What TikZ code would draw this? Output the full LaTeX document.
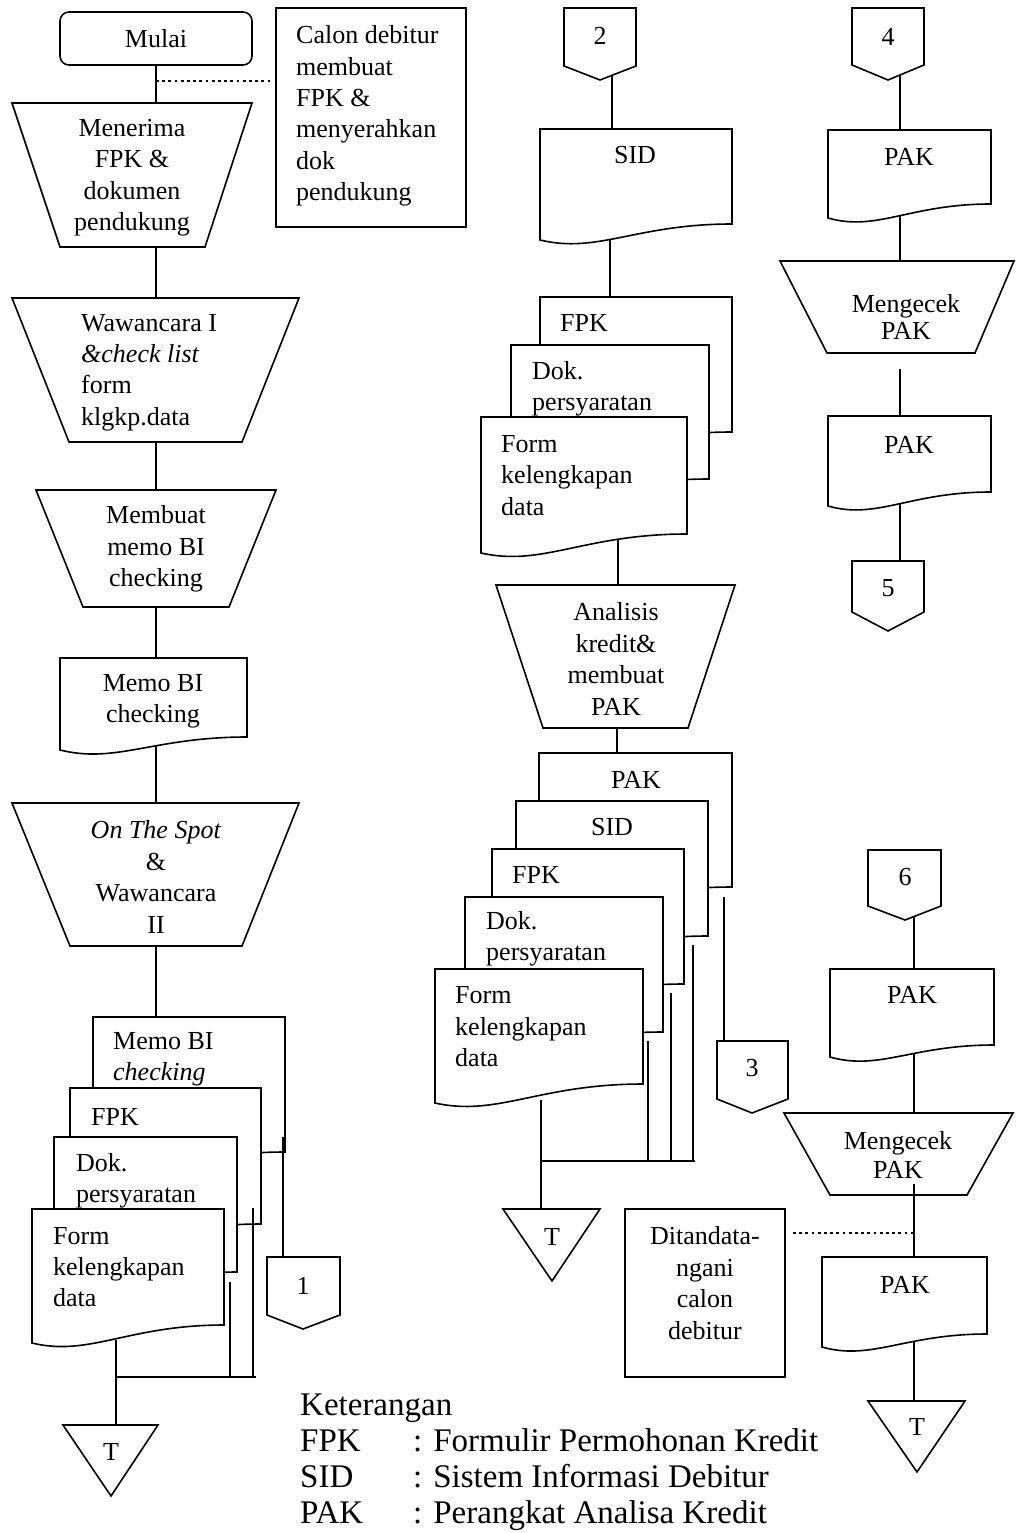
\documentclass[tikz,border=0pt]{standalone}
\usepackage{fontspec}
\setmainfont{Liberation Serif}
% flowchart helpers (coordinates in px, y grows downward)
\newcommand\flowdoc[5]{% x0, top, x1, right bottom, left bottom
  \draw[shp] (#1,#5) -- (#1,#2) -- (#3,#2) -- (#3,#4)
    .. controls ({#1+0.5*(#3-#1)},#4) and ({#1+0.3*(#3-#1)},{#5+14}) .. (#1,#5) -- cycle;}
\newcommand\flowtrap[6]{% top y, top x0, top x1, bottom y, bottom x0, bottom x1
  \draw[shp] (#2,#1) -- (#3,#1) -- (#6,#4) -- (#5,#4) -- cycle;}
\newcommand\flowconn[6]{% x0, x1, top, side bottom, tip x, tip y
  \draw[shp] (#1,#3) -- (#2,#3) -- (#2,#4) -- (#5,#6) -- (#1,#4) -- cycle;}
\newcommand\flowmerge[5]{% x0, x1, top, tip x, tip y
  \draw[shp] (#1,#3) -- (#2,#3) -- (#4,#5) -- cycle;}
\newcommand\abbrcol[1]{\makebox[113pt][l]{#1}}
\begin{document}
\begin{tikzpicture}[x=1pt,y=-1pt,
  shp/.style={draw=black, line width=1.6pt, fill=white, line join=miter},
  lnk/.style={draw=black, line width=1.6pt},
  dots/.style={draw=black, line width=2.8pt, dash pattern=on 2.8pt off 3.4pt},
  txt/.style={font=\fontsize{26}{31.4}\selectfont, inner sep=0pt},
  lgd/.style={font=\fontsize{33}{36}\selectfont, inner sep=0pt, align=left}]
\useasboundingbox[fill=white] (0,0) rectangle (1016,1533);

% ---------- connector end points ----------
\coordinate (l1) at (156,103);
\coordinate (l2a) at (156,247);  \coordinate (l2b) at (156,298);
\coordinate (l3a) at (156,442);  \coordinate (l3b) at (156,490);
\coordinate (l4a) at (156,607);  \coordinate (l4b) at (156,658);
\coordinate (l5a) at (156,745);  \coordinate (l5b) at (156,803);
\coordinate (l6a) at (156,946);  \coordinate (l6b) at (156,1017);
\coordinate (dotA) at (156,81);  \coordinate (dotB) at (270,81);
\coordinate (s1a) at (283,1137); \coordinate (s1b) at (283,1257);
\coordinate (s2a) at (253,1208); \coordinate (s2b) at (253,1377);
\coordinate (s3a) at (230,1282); \coordinate (s3b) at (230,1377);
\coordinate (s4a) at (116,1340); \coordinate (s4b) at (116,1425);
\coordinate (s4m) at (116,1377); \coordinate (s5) at (256,1377);

\coordinate (m1a) at (612,72);   \coordinate (m1b) at (612,129);
\coordinate (m2a) at (610,240);  \coordinate (m2b) at (610,297);
\coordinate (m3a) at (618,530);  \coordinate (m3b) at (618,585);
\coordinate (m4a) at (617,728);  \coordinate (m4b) at (617,753);
\coordinate (n1a) at (724,897);  \coordinate (n1b) at (724,1041);
\coordinate (n2a) at (693,945);  \coordinate (n2b) at (693,1161);
\coordinate (n3a) at (671,993);  \coordinate (n3b) at (671,1161);
\coordinate (n4a) at (648,1041); \coordinate (n4b) at (648,1161);
\coordinate (n5a) at (541,1100); \coordinate (n5b) at (541,1209);
\coordinate (n5m) at (541,1161); \coordinate (n6) at (695,1161);
\coordinate (dotC) at (793,1233); \coordinate (dotD) at (913,1233);

\coordinate (r1a) at (900,72);   \coordinate (r1b) at (900,130);
\coordinate (r2a) at (900,210);  \coordinate (r2b) at (900,261);
\coordinate (r3a) at (900,369);  \coordinate (r3b) at (900,416);
\coordinate (r4a) at (900,500);  \coordinate (r4b) at (900,561);
\coordinate (q1a) at (914,912);  \coordinate (q1b) at (914,969);
\coordinate (q2a) at (914,1050); \coordinate (q2b) at (914,1113);
\coordinate (q3a) at (914,1184); \coordinate (q3b) at (914,1257);
\coordinate (q4a) at (914,1340); \coordinate (q4b) at (914,1401);

% ---------- connectors lying behind the symbols ----------
\draw[lnk] (l1) -- (156,60);
\draw[lnk] (l2a) -- (l2b);
\draw[lnk] (l3a) -- (l3b);
\draw[lnk] (l4a) -- (l4b);
\draw[lnk] (l5a) -- (l5b);
\draw[lnk] (l6a) -- (l6b);
\draw[lnk] (s3a) -- (s3b);
\draw[lnk] (s4a) -- (s4b);
\draw[lnk] (s4m) -- (s5);
\draw[dots] (dotA) -- (dotB);

\draw[lnk] (m1a) -- (m1b);
\draw[lnk] (m2a) -- (m2b);
\draw[lnk] (m3a) -- (m3b);
\draw[lnk] (m4a) -- (m4b);
\draw[lnk] (n1a) -- (n1b);
\draw[lnk] (n2a) -- (n2b);
\draw[lnk] (n3a) -- (n3b);
\draw[lnk] (n4a) -- (n4b);
\draw[lnk] (n5a) -- (n5b);
\draw[lnk] (n5m) -- (n6);
\draw[dots] (dotC) -- (dotD);

\draw[lnk] (r1a) -- (r1b);
\draw[lnk] (r2a) -- (r2b);
\draw[lnk] (r3a) -- (r3b);
\draw[lnk] (r4a) -- (r4b);
\draw[lnk] (q1a) -- (q1b);
\draw[lnk] (q2a) -- (q2b);
\draw[lnk] (q4a) -- (q4b);

% ---------- left column ----------
\node[shp, rounded corners=9pt, minimum width=192pt, minimum height=53pt, txt] (mulai) at (156,38.5) {Mulai};
\node[draw=black, line width=1.4pt, minimum width=190pt, minimum height=219pt, inner sep=0pt] (calon) at (371,117.5) {};
\flowtrap{103}{12}{252}{247}{60}{205}
\flowtrap{298}{12}{299}{442}{69}{242}
\flowtrap{490}{36}{276}{607}{83}{229}
\flowdoc{60}{658}{247}{737}{750}
\flowtrap{803}{12}{299}{946}{70}{242}
\flowdoc{93}{1017}{285}{1152}{1166}
\flowdoc{70}{1088}{261}{1224}{1238}
\flowdoc{54}{1137}{237}{1272}{1286}
\flowdoc{32}{1209}{224}{1325}{1343}
\flowconn{267}{340}{1257}{1315}{303}{1329}
\flowmerge{63}{158}{1425}{111}{1496}
\draw[lnk] (s1a) -- (s1b);
\draw[lnk] (s2a) -- (s2b);

% ---------- middle column ----------
\flowconn{564}{636}{8}{66}{600}{80}
\flowdoc{540}{129}{732}{224}{240}
\flowdoc{540}{297}{732}{432}{446}
\flowdoc{511}{345}{709}{479}{493}
\flowdoc{481}{417}{687}{534}{553}
\flowtrap{585}{496}{735}{728}{543}{688}
\flowdoc{539}{753}{732}{887}{901}
\flowdoc{516}{801}{708}{936}{950}
\flowdoc{492}{849}{684}{984}{998}
\flowdoc{465}{897}{663}{1032}{1046}
\flowdoc{435}{969}{643}{1084}{1103}
\flowconn{717}{788}{1041}{1099}{752}{1113}
\flowmerge{503}{600}{1209}{552}{1281}
\node[draw=black, line width=1.4pt, minimum width=160pt, minimum height=168pt, inner sep=0pt] (ttd) at (705,1293) {};

% ---------- right column ----------
\flowconn{852}{924}{8}{65}{888}{80}
\flowdoc{828}{130}{991}{204}{218}
\flowtrap{261}{780}{1014}{353}{827}{975}
\flowdoc{828}{416}{991}{492}{506}
\flowconn{852}{924}{561}{612}{888}{631}
\flowconn{868}{941}{850}{906}{905}{920}
\flowdoc{830}{969}{994}{1045}{1057}
\flowtrap{1113}{784}{1013}{1195}{830}{967}
\draw[lnk] (q3a) -- (q3b);
\flowdoc{822}{1257}{987}{1334}{1347}
\flowmerge{868}{965}{1401}{917}{1472}

% ---------- texts ----------
\node[txt, align=left, anchor=west] (tcalon) at (296,116)
  {Calon debitur\\membuat\\FPK \&\\menyerahkan\\dok\\pendukung};
\node[txt, align=center] (tmenerima) at (132,177.5) {Menerima\\FPK \&\\dokumen\\pendukung};
\node[txt, align=left, anchor=west] (twaw) at (81,372.5)
  {Wawancara I\\\textit{\&check list}\\form\\klgkp.data};
\node[txt, align=center] (tmembuat) at (156,549) {Membuat\\memo BI\\checking};
\node[txt, align=center] (tmemo) at (153,701) {Memo BI\\checking};
\node[txt, align=center] (tots) at (156,877) {\textit{On The Spot}\\\&\\Wawancara\\II};
\node[txt, align=left, anchor=west] (tl1) at (113,1059) {Memo BI\\\textit{checking}};
\node[txt, anchor=west] (tl2) at (91,1117) {FPK};
\node[txt, align=left, anchor=west] (tl3) at (76,1181) {Dok.\\persyaratan};
\node[txt, align=left, anchor=west] (tl4) at (53,1267) {Form\\kelengkapan\\data};
\node[txt] (tone) at (303,1286) {1};
\node[txt] (tT1) at (111,1452) {T};

\node[txt] (ttwo) at (600,36) {2};
\node[txt] (tsid) at (635,155) {SID};
\node[txt, anchor=west] (tm1) at (560,323) {FPK};
\node[txt, align=left, anchor=west] (tm2) at (532,388.5) {Dok.\\persyaratan};
\node[txt, align=left, anchor=west] (tm3) at (501,475.5) {Form\\kelengkapan\\data};
\node[txt, align=center] (tanalisis) at (616,659) {Analisis\\kredit\&\\membuat\\PAK};
\node[txt] (tm4) at (636,780) {PAK};
\node[txt] (tm5) at (612,827) {SID};
\node[txt, anchor=west] (tm6) at (512,875) {FPK};
\node[txt, align=left, anchor=west] (tm7) at (486,939) {Dok.\\persyaratan};
\node[txt, align=left, anchor=west] (tm8) at (455,1027) {Form\\kelengkapan\\data};
\node[txt] (tthree) at (752,1068) {3};
\node[txt] (tT2) at (552,1237) {T};
\node[txt, align=center] (tttd) at (705,1283) {Ditandata-\\ngani\\calon\\debitur};

\node[txt] (tfour) at (888,37) {4};
\node[txt] (tr1) at (909,157) {PAK};
\node[txt, align=center, font=\fontsize{26}{27}\selectfont] (tr2) at (906,316.5) {Mengecek\\PAK};
\node[txt] (tr3) at (909,445) {PAK};
\node[txt] (tfive) at (888,588) {5};
\node[txt] (tsix) at (905,877) {6};
\node[txt] (tr4) at (912,995) {PAK};
\node[txt, align=center, font=\fontsize{26}{29}\selectfont] (tr5) at (898,1155) {Mengecek\\PAK};
\node[txt] (tr6) at (905,1285) {PAK};
\node[txt] (tT3) at (917,1427) {T};

% ---------- legend ----------
\node[lgd, anchor=west] (legend) at (300,1462)
  {Keterangan\\
   \abbrcol{FPK}: Formulir Permohonan Kredit\\
   \abbrcol{SID}: Sistem Informasi Debitur\\
   \abbrcol{PAK}: Perangkat Analisa Kredit};
\end{tikzpicture}
\end{document}
